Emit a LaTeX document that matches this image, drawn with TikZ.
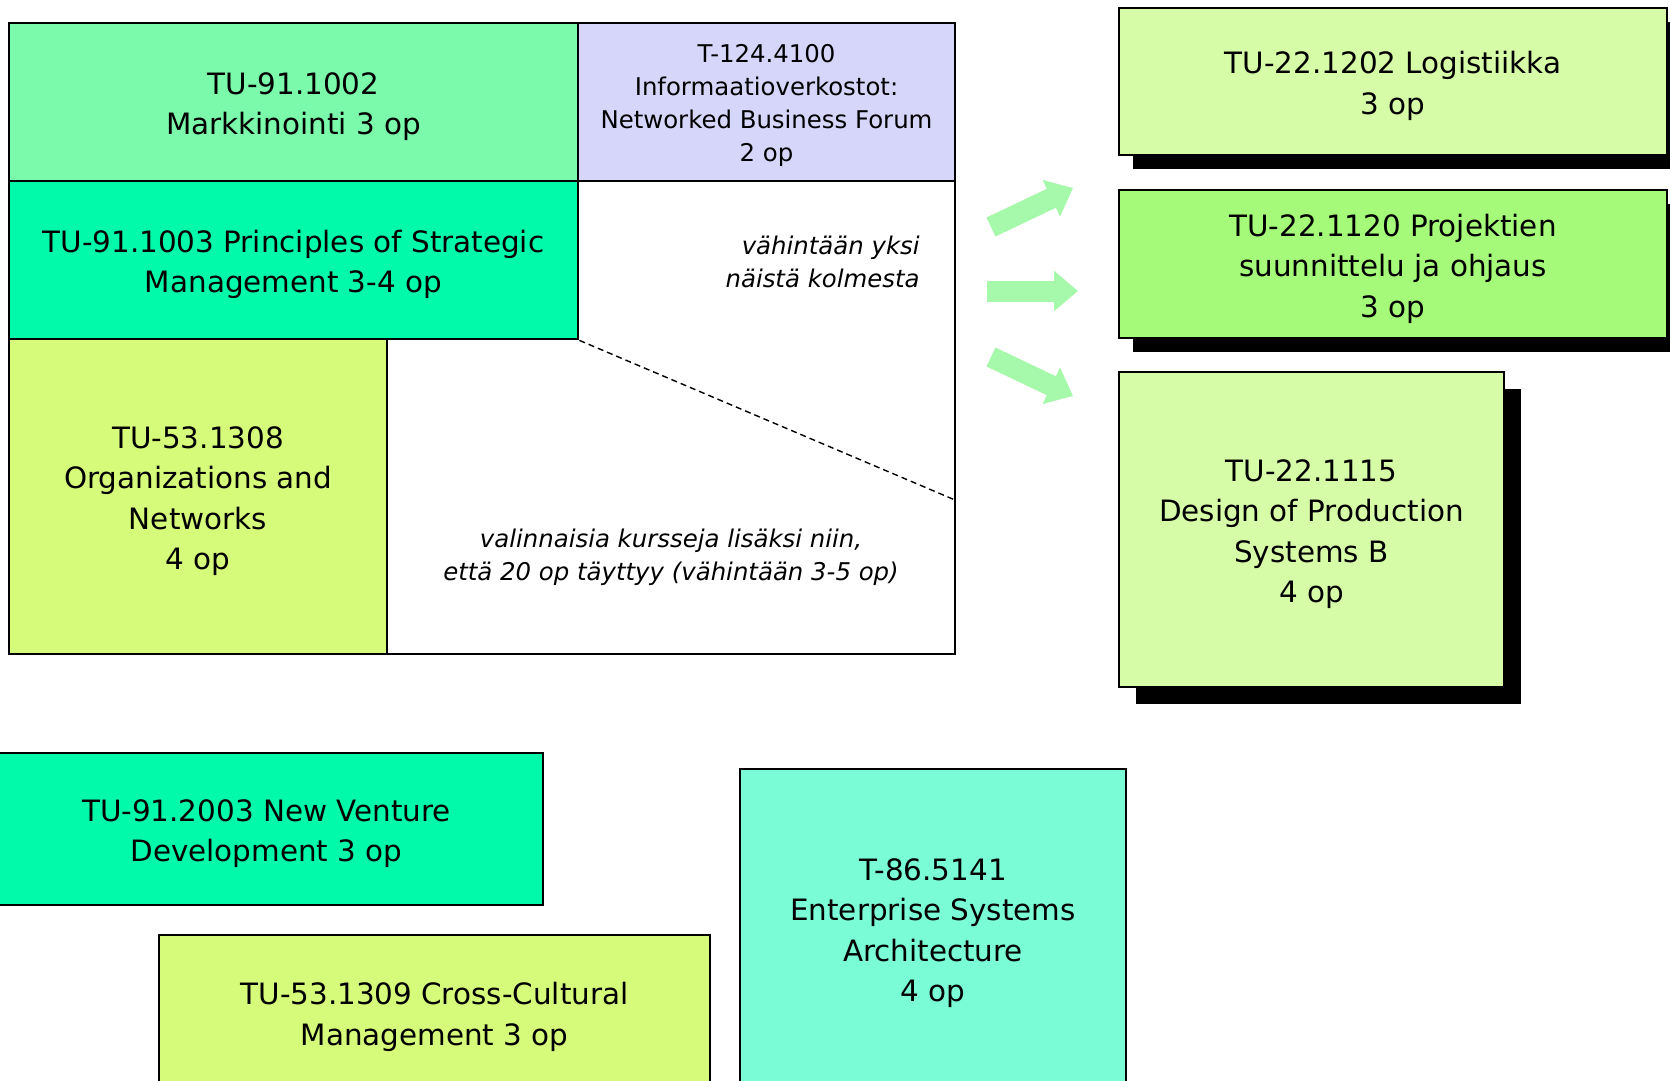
\documentclass[tikz,border=0pt]{standalone}
\usepackage{fontspec}
\setmainfont{DejaVu Sans}
\usetikzlibrary{arrows.meta,shadows}
\definecolor{cMark}{RGB}{122,250,170}
\definecolor{cLav}{RGB}{214,214,250}
\definecolor{cStrat}{RGB}{0,250,170}
\definecolor{cYel}{RGB}{214,250,122}
\definecolor{cPale}{RGB}{214,252,168}
\definecolor{cProj}{RGB}{166,250,122}
\definecolor{cEnt}{RGB}{122,252,214}
\definecolor{cArrow}{RGB}{166,248,170}
\newcommand{\bigtxt}{\fontsize{14.7pt}{20.25pt}\selectfont}
\newcommand{\smalltxt}{\fontsize{12.2pt}{16.5pt}\selectfont}
\tikzset{
  gridbox/.style={draw=black, line width=1.4pt, inner sep=0pt},
  rbox/.style={draw=black, line width=1pt, inner sep=0pt},
  txt/.style={align=center, font=\bigtxt, inner sep=0pt, yshift=-2.3pt},
  stxt/.style={align=center, font=\smalltxt, inner sep=0pt, yshift=-1.6pt},
  shadowA/.style={drop shadow={shadow xshift=7pt, shadow yshift=-7pt, fill=black, opacity=1}},
  shadowB/.style={drop shadow={shadow xshift=8.5pt, shadow yshift=-8.5pt, fill=black, opacity=1}},
  note/.style={inner sep=0pt, font=\smalltxt\itshape},
  bigarrow/.style={draw=cArrow, line width=10.5pt, arrows={-Triangle[width=19.5pt,length=12pt]}},
  dashline/.style={draw=black, line width=0.7pt, dash pattern=on 3pt off 2pt}
}
\begin{document}
\begin{tikzpicture}[x=0.5pt,y=-0.5pt]
\useasboundingbox (0,0) rectangle (1670,1081);
\clip (0,0) rectangle (1670,1081);
% main grid
\node[gridbox, fill=white, minimum width=473pt, minimum height=315.5pt] (frame) at (482,338.5) {};
\node[gridbox, fill=cMark, minimum width=284.5pt, minimum height=79pt,
  label={[txt]center:{TU-91.1002\\Markkinointi 3 op}}] (markk) at (293.5,102) {};
\node[gridbox, fill=cLav, minimum width=188.5pt, minimum height=79pt,
  label={[stxt]center:{T-124.4100\\Informaatioverkostot:\\Networked Business Forum\\2 op}}] (t124) at (766.5,102) {};
\node[gridbox, fill=cStrat, minimum width=284.5pt, minimum height=79pt,
  label={[txt]center:{TU-91.1003 Principles of Strategic\\Management 3-4 op}}] (strat) at (293.5,260) {};
\node[gridbox, fill=cYel, minimum width=189pt, minimum height=157.5pt,
  label={[txt]center:{TU-53.1308\\Organizations and\\Networks\\4 op}}] (org) at (198,496.5) {};
\node[note, align=right, anchor=east] (note1) at (920,262) {vähintään yksi\\näistä kolmesta};
\node[note, align=center] (note2) at (671,557) {valinnaisia kursseja lisäksi niin,\\että 20 op täyttyy (vähintään 3-5 op)};
\coordinate (dashend) at (955,500);
\draw[dashline] (strat.south east) -- (dashend);
% arrows
\coordinate (a1s) at (991,227);
\coordinate (a1e) at (1073,188);
\coordinate (a2s) at (987,291);
\coordinate (a2e) at (1078,291);
\coordinate (a3s) at (991,357);
\coordinate (a3e) at (1073,396);
\draw[bigarrow] (a1s) -- (a1e);
\draw[bigarrow] (a2s) -- (a2e);
\draw[bigarrow] (a3s) -- (a3e);
% right boxes
\node[rbox, shadowA, fill=cPale, minimum width=274pt, minimum height=73.5pt,
  label={[txt]center:{TU-22.1202 Logistiikka\\3 op}}] (logi) at (1393,81.5) {};
\node[rbox, shadowA, fill=cProj, minimum width=274pt, minimum height=74pt,
  label={[txt]center:{TU-22.1120 Projektien\\suunnittelu ja ohjaus\\3 op}}] (proj) at (1393,264) {};
\node[rbox, shadowB, fill=cPale, minimum width=192.5pt, minimum height=157.5pt,
  label={[txt]center:{TU-22.1115\\Design of Production\\Systems B\\4 op}}] (design) at (1311.5,529.5) {};
% bottom boxes
\node[rbox, fill=cStrat, minimum width=276.5pt, minimum height=76pt,
  label={[txt]center:{TU-91.2003 New Venture\\Development 3 op}}] (nvd) at (266.5,829) {};
\node[rbox, fill=cYel, minimum width=275.5pt, minimum height=77.5pt,
  label={[txt]center:{TU-53.1309 Cross-Cultural\\Management 3 op}}] (ccm) at (434.5,1012.5) {};
\node[rbox, fill=cEnt, minimum width=193pt, minimum height=159.5pt,
  label={[txt]center:{T-86.5141\\Enterprise Systems\\Architecture\\4 op}}] (esa) at (933,928.5) {};
\end{tikzpicture}
\end{document}
